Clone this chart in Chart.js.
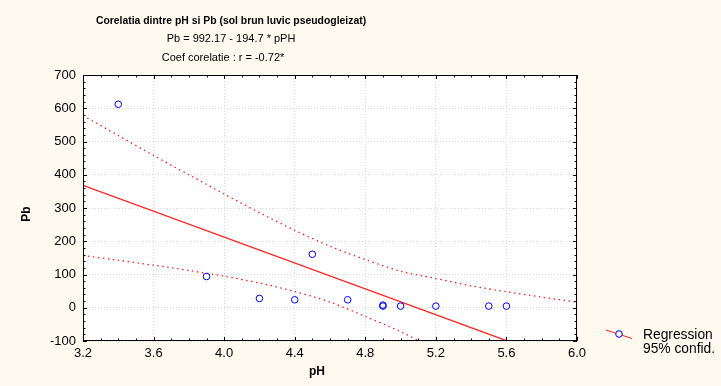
<!DOCTYPE html>
<html><head><meta charset="utf-8">
<script src="https://cdn.jsdelivr.net/npm/chart.js@4.4.1/dist/chart.umd.min.js"></script>
<style>html,body{margin:0;padding:0;background:#fefaf0;overflow:hidden;}#wrap{width:721px;height:386px;}</style>
</head><body><div id="wrap"><canvas id="c" width="721" height="386"></canvas></div>
<script>
// ---- data ----
const titleLines = ['Corelatia dintre pH si Pb (sol brun luvic pseudogleizat)', 'Pb = 992.17 - 194.7 * pPH', 'Coef corelatie : r = -0.72*'];
const xTitle = 'pH';
const yTitle = 'Pb';
const legendLines = ['Regression', '95% confid.'];

const phValues = [3.4, 3.9, 4.2, 4.4, 4.5, 4.7, 4.9, 4.9, 5.0, 5.2, 5.5, 5.6];
const pbValues = [612, 94, 28, 24, 161, 24, 8, 5, 5, 5, 5, 5];

const regX = [3.2, 5.6];
const regY = [368, -99];

const bandX = [3.2, 3.4, 3.6, 3.8, 4.0, 4.2, 4.4, 4.6, 4.8, 5.0, 5.2, 5.4, 5.6, 5.8, 6.0];
const upperY = [578, 518, 458, 400, 342, 286, 233, 185, 145, 110, 88, 66, 48, 32, 17];
const lowerY = [157, 143, 128, 112, 95, 74, 49, 17, -26, -72, -125];

const xTicks = [3.2, 3.6, 4.0, 4.4, 4.8, 5.2, 5.6, 6.0];
const yTicks = [-100, 0, 100, 200, 300, 400, 500, 600, 700];
const xMinorStep = 0.1;
const yMinorStep = 20;

// ---- styles ----
const FONT = "'Liberation Sans', Arial, sans-serif";
const BG = '#fefaf0';
const RED = 'rgb(255,30,30)';
const BLUE = '#0000ff';

const zip = (xs, ys) => ys.map((y, i) => ({ x: xs[i], y: y }));

const decor = {
  id: 'decor',
  beforeDraw(chart) {
    const { ctx, chartArea: a } = chart;
    ctx.save();
    ctx.fillStyle = BG;
    ctx.fillRect(0, 0, chart.width, chart.height);
    ctx.fillStyle = '#ffffff';
    ctx.fillRect(a.left, a.top, a.right - a.left, a.bottom - a.top);
    ctx.restore();
  },
  afterDraw(chart) {
    const { ctx, chartArea: a, scales } = chart;
    const xs = scales.x, ys = scales.y;
    ctx.save();
    // frame
    ctx.strokeStyle = '#000';
    ctx.lineWidth = 1;
    ctx.strokeRect(Math.round(a.left) + 0.5, Math.round(a.top) + 0.5, Math.round(a.right - a.left) - 1, Math.round(a.bottom - a.top) - 1);
    // inward ticks
    ctx.beginPath();
    const x0 = xTicks[0], x1 = xTicks[xTicks.length - 1];
    const nx = Math.round((x1 - x0) / xMinorStep);
    for (let i = 0; i <= nx; i++) {
      const v = x0 + i * xMinorStep;
      const px = Math.round(xs.getPixelForValue(v)) + 0.5;
      const major = i % 4 === 0;
      const L = major ? 4 : 2.5;
      ctx.moveTo(px, a.bottom); ctx.lineTo(px, a.bottom - L);
      ctx.moveTo(px, a.top); ctx.lineTo(px, a.top + L);
    }
    const y0 = yTicks[0], y1 = yTicks[yTicks.length - 1];
    const ny = Math.round((y1 - y0) / yMinorStep);
    for (let i = 0; i <= ny; i++) {
      const v = y0 + i * yMinorStep;
      const py = Math.round(ys.getPixelForValue(v)) + 0.5;
      const major = i % 5 === 0;
      const L = major ? 4 : 2.5;
      ctx.moveTo(a.left, py); ctx.lineTo(a.left + L, py);
      ctx.moveTo(a.right, py); ctx.lineTo(a.right - L, py);
    }
    ctx.strokeStyle = '#000';
    ctx.lineWidth = 1;
    ctx.stroke();

    // titles
    ctx.fillStyle = '#000';
    ctx.textAlign = 'center';
    ctx.textBaseline = 'alphabetic';
    ctx.font = 'bold 10.4px ' + FONT;
    ctx.fillText(titleLines[0], 231, 24);
    ctx.font = '11px ' + FONT;
    ctx.fillText(titleLines[1], 231, 42);
    ctx.fillText(titleLines[2], 223, 61);

    // axis titles
    ctx.font = 'bold 12px ' + FONT;
    ctx.textBaseline = 'middle';
    ctx.fillText(xTitle, 317, 372);
    ctx.save();
    ctx.translate(27, 214);
    ctx.rotate(-Math.PI / 2);
    ctx.fillText(yTitle, 0, 0);
    ctx.restore();

    // legend
    ctx.beginPath();
    ctx.moveTo(606, 330); ctx.lineTo(632, 338.5);
    ctx.strokeStyle = RED; ctx.lineWidth = 1; ctx.stroke();
    ctx.beginPath();
    ctx.arc(619, 334, 3.3, 0, Math.PI * 2);
    ctx.fillStyle = BG; ctx.fill();
    ctx.strokeStyle = BLUE; ctx.lineWidth = 1; ctx.stroke();
    ctx.fillStyle = '#000';
    ctx.font = '13.8px ' + FONT;
    ctx.textAlign = 'left';
    ctx.textBaseline = 'alphabetic';
    ctx.fillText(legendLines[0], 643, 339);
    ctx.fillText(legendLines[1], 643, 353);
    ctx.restore();
  }
};

new Chart(document.getElementById('c'), {
  type: 'scatter',
  data: {
    datasets: [
      {
        label: 'Pb',
        data: zip(phValues, pbValues),
        pointStyle: 'circle',
        pointRadius: 3.3,
        pointBorderWidth: 1,
        pointBackgroundColor: 'rgba(0,0,0,0)',
        pointBorderColor: BLUE,
        showLine: false,
        order: 0
      },
      {
        label: 'Regression',
        data: zip(regX, regY),
        showLine: true,
        borderColor: RED,
        borderWidth: 1.2,
        pointRadius: 0,
        clip: 0,
        order: 1
      },
      {
        label: 'upper',
        data: zip(bandX, upperY),
        showLine: true,
        borderColor: RED,
        borderWidth: 1.3,
        borderDash: [1.5, 3.5],
        pointRadius: 0,
        tension: 0.3,
        clip: 0,
        order: 2
      },
      {
        label: 'lower',
        data: zip(bandX, lowerY),
        showLine: true,
        borderColor: RED,
        borderWidth: 1.3,
        borderDash: [1.5, 3.5],
        pointRadius: 0,
        tension: 0.3,
        clip: 0,
        order: 2
      }
    ]
  },
  options: {
    responsive: false,
    animation: false,
    devicePixelRatio: 1,
    layout: { padding: { top: 75, right: 144, left: 0, bottom: 0 } },
    plugins: { legend: { display: false }, title: { display: false }, tooltip: { enabled: false } },
    scales: {
      x: {
        type: 'linear',
        min: xTicks[0], max: xTicks[xTicks.length - 1],
        afterBuildTicks: s => { s.ticks = xTicks.map(v => ({ value: v })); },
        afterFit: s => { s.height = 45; },
        ticks: { color: '#000', padding: 5, font: { family: FONT, size: 13 }, callback: v => Number(v).toFixed(1), maxRotation: 0, autoSkip: false },
        grid: { color: '#d8d8d8', lineWidth: 1, drawTicks: false },
        border: { display: false, dash: [1, 2] }
      },
      y: {
        type: 'linear',
        min: yTicks[0], max: yTicks[yTicks.length - 1],
        afterBuildTicks: s => { s.ticks = yTicks.map(v => ({ value: v })); },
        afterFit: s => { s.width = 83; },
        ticks: { color: '#000', padding: 7, font: { family: FONT, size: 13 }, autoSkip: false },
        grid: { color: '#d8d8d8', lineWidth: 1, drawTicks: false },
        border: { display: false, dash: [1, 2] }
      }
    }
  },
  plugins: [decor]
});
</script>
</body></html>
